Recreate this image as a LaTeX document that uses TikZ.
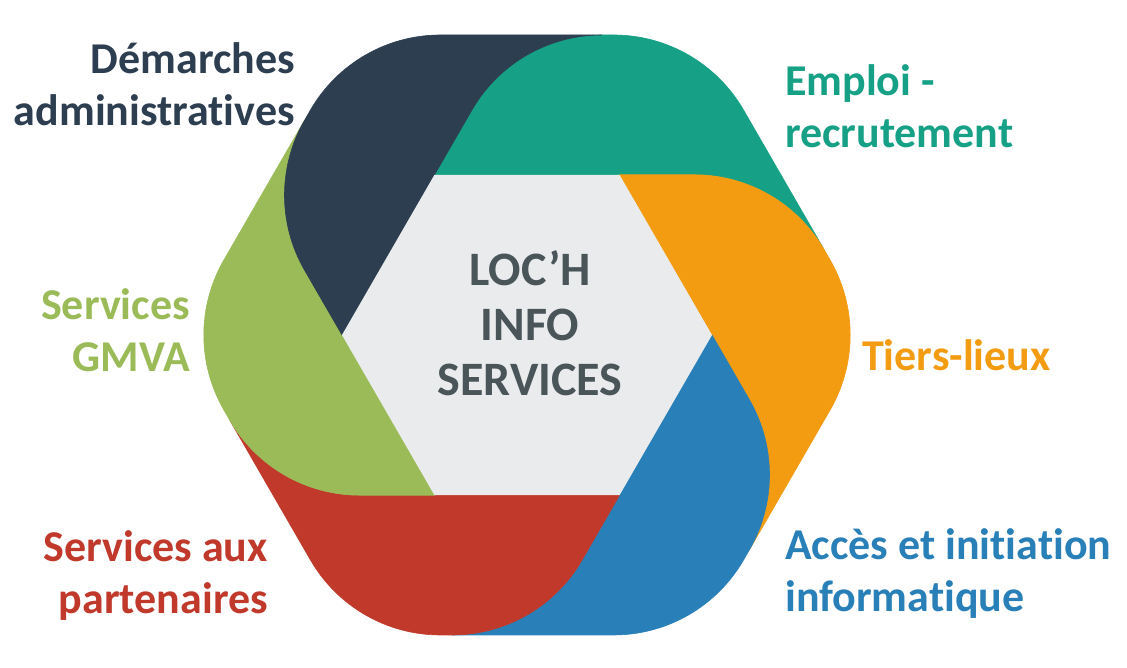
\documentclass[tikz,border=0pt]{standalone}
\usepackage{fontspec}
\setmainfont{Carlito}[Ligatures={NoCommon,NoRare,NoContextual}]
\definecolor{cdark}{HTML}{2C3E50}
\definecolor{cteal}{HTML}{16A085}
\definecolor{corange}{HTML}{F39C12}
\definecolor{cblue}{HTML}{2980B9}
\definecolor{cred}{HTML}{C0392B}
\definecolor{cgreen}{HTML}{9BBB59}
\definecolor{cgray}{HTML}{E9EBEC}
\definecolor{ctext}{HTML}{4A5559}
\newcommand\mypetal[2]{%
  \begin{scope}[shift={(527,333)},rotate=#1]
    \fill[#2,draw=#2,line width=0.6pt,line join=round]
      (-92.5,160.2) -- (167.3,160.2)
      arc[start angle=90,end angle=30,radius=150] -- (216.5,225)
      arc[start angle=30,end angle=90,radius=150] -- (74.8,300)
      arc[start angle=90,end angle=150,radius=150] -- cycle;
  \end{scope}}
\tikzset{
  lab/.style={inner sep=0pt,font=\fontsize{44}{52}\selectfont\bfseries},
  ctr/.style={inner sep=0pt,align=center,text=ctext,font=\fontsize{48}{55}\selectfont\bfseries}
}
\begin{document}
\begin{tikzpicture}[x=1pt,y=1pt]
\useasboundingbox (0,0) rectangle (1127,668);
\fill[white] (0,0) rectangle (1127,668);
\mypetal{0}{cteal}
\mypetal{-60}{corange}
\mypetal{-120}{cblue}
\mypetal{-180}{cred}
\mypetal{-240}{cgreen}
\mypetal{-300}{cdark}
\fill[cgray] (527,333) ++(0:185) -- ++(120:185) -- ++(180:185) -- ++(240:185) -- ++(300:185) -- ++(0:185) -- cycle;
\node[ctr] (center) at (530,345) {LOC’H\\INFO\\SERVICES};
\node[lab,text=cdark,anchor=east,align=right] (dem) at (295,584) {Démarches\\administratives};
\node[lab,text=cteal,anchor=west,align=left] (emp) at (785,562) {Emploi -\\recrutement};
\node[lab,text=cgreen,anchor=east,align=right] (gmva) at (190,338) {Services\\GMVA};
\node[lab,text=corange,anchor=west,align=left] (tiers) at (862,313) {Tiers-lieux};
\node[lab,text=cred,anchor=east,align=right] (part) at (268,92) {Services aux\\partenaires};
\node[lab,text=cblue,anchor=west,align=left] (acces) at (785,94) {Accès et initiation\\informatique};
\end{tikzpicture}
\end{document}
